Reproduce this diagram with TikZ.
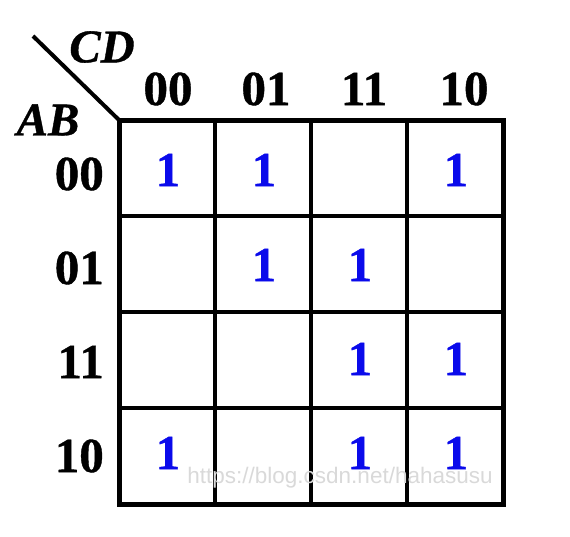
\documentclass[tikz,border=0pt]{standalone}
\usepackage{fontspec}
\setmainfont{Liberation Serif}
\newfontfamily\heavy[FakeBold=0.8]{Liberation Serif Bold}
\newfontfamily\heavyit[FakeBold=0.8]{Liberation Serif Bold Italic}
\newfontfamily\wmfont{Liberation Sans}
\definecolor{kblue}{RGB}{10,10,235}
\tikzset{
  lbl/.style={font=\heavy\fontsize{49}{52}\selectfont, inner sep=0pt, anchor=center},
  rlbl/.style={font=\heavy\fontsize{49}{52}\selectfont, inner sep=0pt, anchor=east},
  var/.style={font=\heavyit\fontsize{47}{50}\selectfont, inner sep=0pt, anchor=center},
  one/.style={font=\heavy\fontsize{49}{52}\selectfont, text=kblue, inner sep=0pt, anchor=center},
  outer/.style={line width=5pt},
  inner/.style={line width=3.2pt},
}
\begin{document}
\begin{tikzpicture}[x=1pt,y=-1pt]
\useasboundingbox (0,0) rectangle (570,536);
% grid corners
\coordinate (tl) at (119,120);
\coordinate (br) at (503,504);
\coordinate (d0) at (33,36);
% inner lines
\foreach \i/\v in {1/215,2/311,3/407}{
  \coordinate (vt\i) at (\v,120);
  \coordinate (vb\i) at (\v,504);
  \coordinate (hl\i) at (119,\v+1);
  \coordinate (hr\i) at (503,\v+1);
  \draw[inner] (vt\i) -- (vb\i);
  \draw[inner] (hl\i) -- (hr\i);
}
\draw[outer] (tl) rectangle (br);
\draw[line width=4pt] (d0) -- (tl);
% variable labels
\node[var] (cd) at (102,47) {CD};
\node[var] (ab) at (48,120) {AB};
% column headers
\node[lbl] (c1) at (168,89) {00};
\node[lbl] (c2) at (266,89) {01};
\node[lbl] (c3) at (364,89) {11};
\node[lbl] (c4) at (464,89) {10};
% row headers
\node[rlbl] (r1) at (104,174) {00};
\node[rlbl] (r2) at (104,268) {01};
\node[rlbl] (r3) at (104,362) {11};
\node[rlbl] (r4) at (104,456) {10};
% ones
\node[one] (m11) at (168,170) {1};
\node[one] (m12) at (264,170) {1};
\node[one] (m14) at (456,170) {1};
\node[one] (m22) at (264,265) {1};
\node[one] (m23) at (360,265) {1};
\node[one] (m33) at (360,359) {1};
\node[one] (m34) at (456,359) {1};
\node[one] (m41) at (168,453) {1};
\node[one] (m43) at (360,453) {1};
\node[one] (m44) at (456,453) {1};
% watermark
\node[font=\wmfont\fontsize{22.5}{25}\selectfont, text=black!15, inner sep=0pt, anchor=center] (wm) at (340,478) {https://blog.csdn.net/hahasusu};
\end{tikzpicture}
\end{document}
